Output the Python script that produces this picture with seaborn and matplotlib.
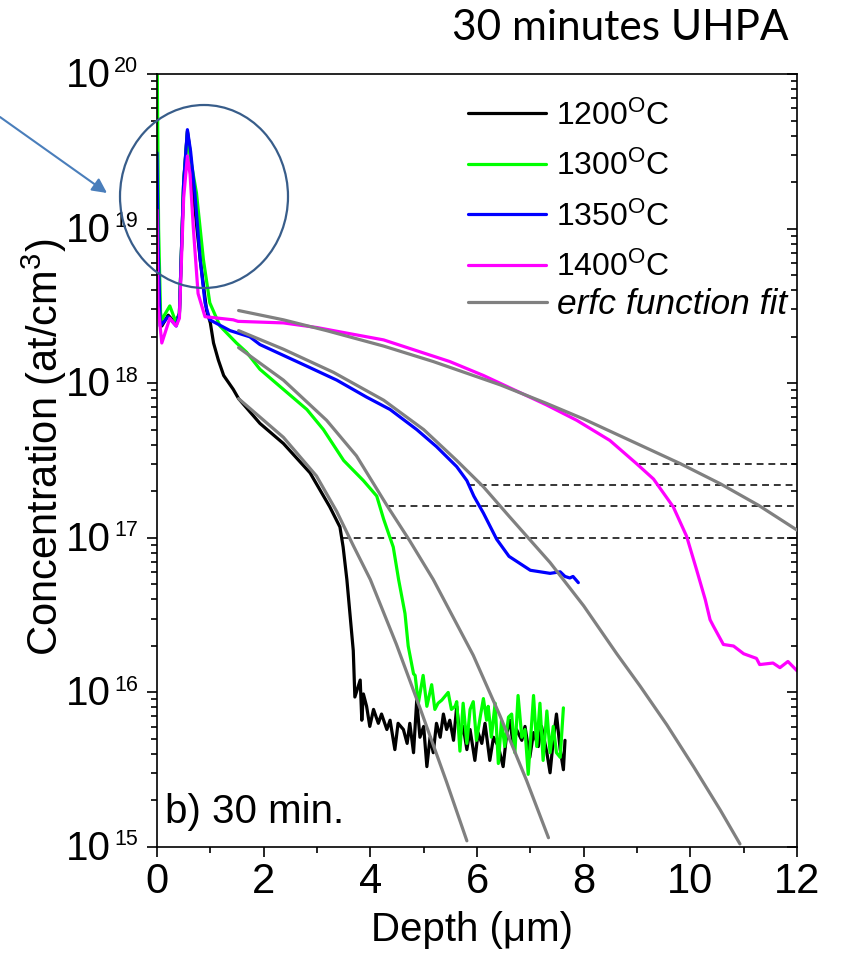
import numpy as np
import pandas as pd
import matplotlib
matplotlib.use("Agg")
import matplotlib.pyplot as plt
import seaborn as sns
from matplotlib.patches import Ellipse
from matplotlib.lines import Line2D

# ---------------- data (depth in um, log10 concentration in at/cm^3) -------------
series_names = ["1200", "1300", "1350", "1400"]
series_colors = ["#000000", "#00FF00", "#0000FF", "#FF00FF"]

x_1200 = [0.0, 0.02, 0.09, 0.21, 0.34, 0.42, 0.50, 0.57, 0.62, 0.68, 0.81, 0.93, 1.0, 1.06,
          1.15, 1.25, 1.43, 1.53, 1.93, 2.37, 2.87, 3.24, 3.43, 3.49, 3.56, 3.68,
          3.71, 3.81, 3.84, 3.87, 3.93, 3.99, 4.06, 4.15, 4.21, 4.31, 4.37, 4.46, 4.52, 4.62,
          4.69, 4.74, 4.81, 4.87, 4.93, 5.00, 5.06, 5.12, 5.18, 5.24, 5.31, 5.37, 5.43, 5.49,
          5.56, 5.62, 5.68, 5.74, 5.81, 5.87, 5.96, 6.02, 6.09, 6.15, 6.24, 6.31, 6.40, 6.49,
          6.56, 6.62, 6.68, 6.74, 6.84, 6.90, 6.99, 7.06, 7.15, 7.21, 7.31, 7.37, 7.43, 7.49,
          7.56, 7.62, 7.65]
logc_1200 = [19.3, 18.6, 18.37, 18.44, 18.39, 18.45, 19.3, 19.63, 19.5, 19.23, 18.80, 18.47,
             18.39, 18.26, 18.15, 18.05, 17.96, 17.90, 17.74, 17.61, 17.42, 17.20, 17.07, 16.94,
             16.73, 16.27,
             15.97, 16.08, 15.82, 15.99, 15.91, 15.78, 15.89, 15.80, 15.86, 15.76, 15.82, 15.63,
             15.80, 15.76, 15.67, 15.80, 15.61, 15.95, 15.71, 15.78, 15.52, 15.71, 15.61, 15.80,
             15.71, 15.86, 15.76, 15.82, 15.69, 15.91, 15.71, 15.78, 15.63, 15.76, 15.56, 15.74,
             15.67, 15.80, 15.56, 15.71, 15.65, 15.52, 15.74, 15.82, 15.65, 15.76, 15.69, 15.78,
             15.58, 15.74, 15.65, 15.78, 15.61, 15.48, 15.69, 15.86, 15.63, 15.50, 15.69]

x_1300 = [0.0, 0.03, 0.07, 0.24, 0.36, 0.42, 0.50, 0.57, 0.63, 0.74, 0.87, 0.99, 1.18, 1.49,
          1.68, 1.93, 2.37, 2.81, 3.12, 3.50, 3.87, 4.12, 4.25, 4.43, 4.53, 4.65, 4.71, 4.81,
          4.84, 4.90, 4.99, 5.06, 5.15, 5.21, 5.27, 5.34, 5.46, 5.52, 5.59, 5.62, 5.68, 5.74,
          5.81, 5.87, 5.93, 5.99, 6.06, 6.12, 6.18, 6.21, 6.27, 6.34, 6.40, 6.46, 6.52, 6.59,
          6.65, 6.71, 6.77, 6.84, 6.90, 6.96, 7.06, 7.12, 7.18, 7.24, 7.31, 7.37, 7.43, 7.49,
          7.56, 7.62]
logc_1300 = [20.2, 19.0, 18.40, 18.50, 18.39, 18.45, 19.3, 19.62, 19.45, 19.23, 18.80, 18.52,
             18.37, 18.26, 18.20, 18.09, 17.96, 17.83, 17.70, 17.50, 17.37, 17.27, 17.12, 16.94,
             16.73, 16.51, 16.30, 16.12,
             16.11, 15.93, 16.11, 15.91, 16.05, 15.89, 15.93, 15.95, 16.00, 15.89, 15.91, 15.94,
             15.62, 15.93, 15.67, 15.89, 15.94, 15.69, 15.84, 15.96, 15.82, 15.91, 15.71, 15.93,
             15.54, 15.82, 15.65, 15.84, 15.86, 15.61, 15.98, 15.71, 15.76, 15.47, 15.98, 15.65,
             15.93, 15.56, 15.88, 15.61, 15.78, 15.61, 15.58, 15.90]

x_1350 = [0.0, 0.02, 0.06, 0.21, 0.36, 0.42, 0.50, 0.57, 0.63, 0.71, 0.81, 0.90, 0.99, 1.37,
          1.74, 1.93, 2.37, 2.81, 3.37, 3.93, 4.37, 4.87, 5.24, 5.62, 5.81, 5.94, 6.12, 6.37,
          6.60, 7.00, 7.37, 7.56, 7.65, 7.74, 7.80, 7.90]
logc_1350 = [19.49, 18.9, 18.37, 18.43, 18.37, 18.45, 19.3, 19.64, 19.5, 19.23, 18.80, 18.52,
             18.41, 18.34, 18.30, 18.25, 18.18, 18.11, 18.02, 17.91, 17.83, 17.70, 17.59, 17.46,
             17.37, 17.27, 17.16, 16.99, 16.88, 16.79, 16.77, 16.78, 16.75, 16.74, 16.75, 16.71]

x_1400 = [0.0, 0.02, 0.09, 0.24, 0.36, 0.42, 0.50, 0.57, 0.62, 0.68, 0.77, 0.90, 1.43, 1.52,
          2.37, 3.00, 3.62, 4.25, 4.87, 5.49, 6.12, 7.30, 7.87, 8.49, 8.99, 9.31, 9.68, 9.93,
          10.12, 10.28, 10.37, 10.43, 10.62, 10.81, 11.00, 11.24, 11.30, 11.55, 11.68, 11.83,
          12.0]
logc_1400 = [19.12, 18.5, 18.26, 18.42, 18.37, 18.42, 19.2, 19.47, 19.35, 19.01, 18.58, 18.43,
             18.41, 18.40, 18.39, 18.36, 18.32, 18.28, 18.21, 18.14, 18.05, 17.86, 17.76, 17.63,
             17.48, 17.38, 17.20, 17.01, 16.79, 16.60, 16.47, 16.43, 16.31, 16.30, 16.25, 16.22,
             16.18, 16.19, 16.16, 16.20, 16.14]

# erfc fit curves
fit_x_1400 = [1.53, 2.37, 3.18, 4.25, 5.18, 6.43, 7.30, 7.99, 9.81, 10.56, 11.28, 12.0]
fit_logc_1400 = [18.47, 18.41, 18.34, 18.24, 18.14, 17.99, 17.87, 17.77, 17.48, 17.35, 17.21, 17.05]
fit_x_1350 = [1.53, 2.37, 3.31, 4.25, 5.0, 5.62, 6.12, 6.60, 7.37, 8.0, 8.62, 9.06, 9.56,
              10.06, 10.56, 10.93]
fit_logc_1350 = [18.34, 18.22, 18.07, 17.89, 17.70, 17.50, 17.33, 17.14, 16.84, 16.56, 16.25,
                 16.04, 15.79, 15.52, 15.24, 15.02]
fit_x_1300 = [1.53, 2.37, 3.18, 3.74, 4.31, 4.74, 5.18, 5.93, 6.43, 6.93, 7.34]
fit_logc_1300 = [18.23, 18.02, 17.76, 17.53, 17.21, 16.98, 16.73, 16.24, 15.85, 15.43, 15.06]
fit_x_1200 = [1.53, 2.37, 2.99, 3.37, 3.68, 4.0, 4.49, 4.93, 5.43, 5.81]
fit_logc_1200 = [17.90, 17.65, 17.40, 17.17, 16.95, 16.73, 16.31, 15.90, 15.42, 15.04]

# horizontal dashed reference levels
ref_levels = [3.0e17, 2.2e17, 1.6e17, 1.0e17]
ref_start = [9.03, 5.84, 4.31, 3.46]

# ---------------- style ----------------
sns.set_style("ticks")
plt.rcParams["font.family"] = ["Liberation Sans", "DejaVu Sans"]
plt.rcParams["mathtext.fontset"] = "custom"
plt.rcParams["mathtext.rm"] = "Liberation Sans"
plt.rcParams["mathtext.it"] = "Liberation Sans:italic"
plt.rcParams["mathtext.default"] = "regular"
for key in ["text.color", "axes.labelcolor", "xtick.color", "ytick.color", "axes.edgecolor"]:
    plt.rcParams[key] = "black"

W, H = 843, 961
fig = plt.figure(figsize=(W / 100, H / 100), dpi=100)
ax = fig.add_axes([157 / W, 1 - 847 / H, 640 / W, 773 / H])

# ---------------- data frames ----------------
xs = [x_1200, x_1300, x_1350, x_1400]
ls = [logc_1200, logc_1300, logc_1350, logc_1400]
frames = []
for name, xv, lv in zip(series_names, xs, ls):
    frames.append(pd.DataFrame({"depth": xv, "conc": 10.0 ** np.array(lv), "series": name}))
df = pd.concat(frames, ignore_index=True)

fx = [fit_x_1200, fit_x_1300, fit_x_1350, fit_x_1400]
fl = [fit_logc_1200, fit_logc_1300, fit_logc_1350, fit_logc_1400]
fframes = []
for name, xv, lv in zip(series_names, fx, fl):
    fframes.append(pd.DataFrame({"depth": xv, "conc": 10.0 ** np.array(lv), "fit": name}))
dff = pd.concat(fframes, ignore_index=True)

# dashed lines (behind)
for lev, xs0 in zip(ref_levels, ref_start):
    ax.plot([xs0, 12], [lev, lev], color="black", lw=1.1, ls=(0, (4.5, 3.2)), zorder=1)

sns.lineplot(data=df, x="depth", y="conc", hue="series", palette=dict(zip(series_names, series_colors)),
             hue_order=series_names, estimator=None, sort=False, lw=2.3, legend=False, ax=ax,
             zorder=2)
sns.lineplot(data=dff, x="depth", y="conc", units="fit", estimator=None, sort=False,
             color="#808080", lw=2.3, legend=False, ax=ax, zorder=3)

ax.set_yscale("log")
ax.set_xlim(0, 12)
ax.set_ylim(1e15, 1e20)
ax.set_xlabel("")
ax.set_ylabel("")

# spines / ticks
for s in ax.spines.values():
    s.set_linewidth(1.2)
    s.set_color("black")
ax.set_xticks([0, 2, 4, 6, 8, 10, 12])
ax.set_xticks([1, 3, 5, 7, 9, 11], minor=True)
ax.tick_params(axis="x", which="major", direction="out", length=7, width=1.2, pad=4,
               labelsize=30, top=False)
ax.tick_params(axis="x", which="minor", direction="out", length=4, width=1.2, top=False)
ax.tick_params(axis="y", which="major", direction="out", length=7, width=1.2, labelleft=False,
               right=False)
ax.tick_params(axis="y", which="minor", direction="out", length=4, width=1.2, right=False)

ax2 = ax.twinx()
ax2.set_yscale("log")
ax2.set_ylim(1e15, 1e20)
ax2.tick_params(axis="y", which="major", direction="in", length=7, width=1.2, labelright=False)
ax2.tick_params(axis="y", which="minor", direction="in", length=4, width=1.2)
for s in ax2.spines.values():
    s.set_visible(False)
ax2.grid(False)

# y tick labels: "10" with small exponent
for k in range(15, 21):
    ax.annotate("10", xy=(0, 10.0 ** k), xycoords=("axes fraction", "data"),
                xytext=(-33.5, -1.5), textcoords="offset points", ha="right", va="center",
                fontsize=29, annotation_clip=False)
    ax.annotate(str(k), xy=(0, 10.0 ** k), xycoords=("axes fraction", "data"),
                xytext=(-31.0, -2.5), textcoords="offset points", ha="left", va="bottom",
                fontsize=15.5, annotation_clip=False)

# axis labels
fig.text(44 / W, 1 - 447 / H, "Concentration (at/cm$^{3}$)", rotation=90, ha="center",
         va="center", fontsize=30)
fig.text(472 / W, 1 - 930 / H, "Depth (\u03bcm)", ha="center", va="center", fontsize=29)

# legend: temperatures
handles = [Line2D([], [], color=c, lw=2.3) for c in series_colors]
labels = [f"{n}$^{{O}}$C" for n in series_names]
leg1 = ax.legend(handles, labels, loc="upper left", bbox_to_anchor=(0.4634, 1.0 - 12 / 773),
                 frameon=False, fontsize=23, handlelength=2.45, handletextpad=0.3,
                 labelspacing=0.6, borderaxespad=0.15, borderpad=0.3)
# legend: erfc fit
leg2 = ax.legend([Line2D([], [], color="#808080", lw=2.3)], ["erfc function fit"],
                 loc="center left", bbox_to_anchor=(0.4611, (847 - 305) / 773),
                 frameon=False, fontsize=25.5, handlelength=2.23, handletextpad=0.28,
                 borderaxespad=0.15, borderpad=0.3)
leg2.get_texts()[0].set_fontstyle("italic")
ax.add_artist(leg1)

# panel label
ax.text(8 / 640, 24 / 773, "b) 30 min.", transform=ax.transAxes, ha="left", va="baseline",
        fontsize=29)

# title
fig.text(789 / W, 1 - 40 / H, "30 minutes UHPA", ha="right", va="baseline", fontsize=30.5,
         family=["Lato", "DejaVu Sans"])

# annotation ellipse and arrow
ell = Ellipse((204 / W, 1 - 196.5 / H), 168 / W, 183 / H, transform=fig.transFigure,
              fill=False, edgecolor="#385D8A", lw=1.6, zorder=5)
fig.patches.append(ell)
ax.annotate("", xy=(107, H - 193), xycoords="figure pixels", xytext=(0, H - 117),
            textcoords="figure pixels",
            arrowprops=dict(arrowstyle="-|>", color="#4A7EBB", lw=1.5, mutation_scale=22,
                            shrinkA=0, shrinkB=0), annotation_clip=False)

fig.savefig("out.png", dpi=100)
